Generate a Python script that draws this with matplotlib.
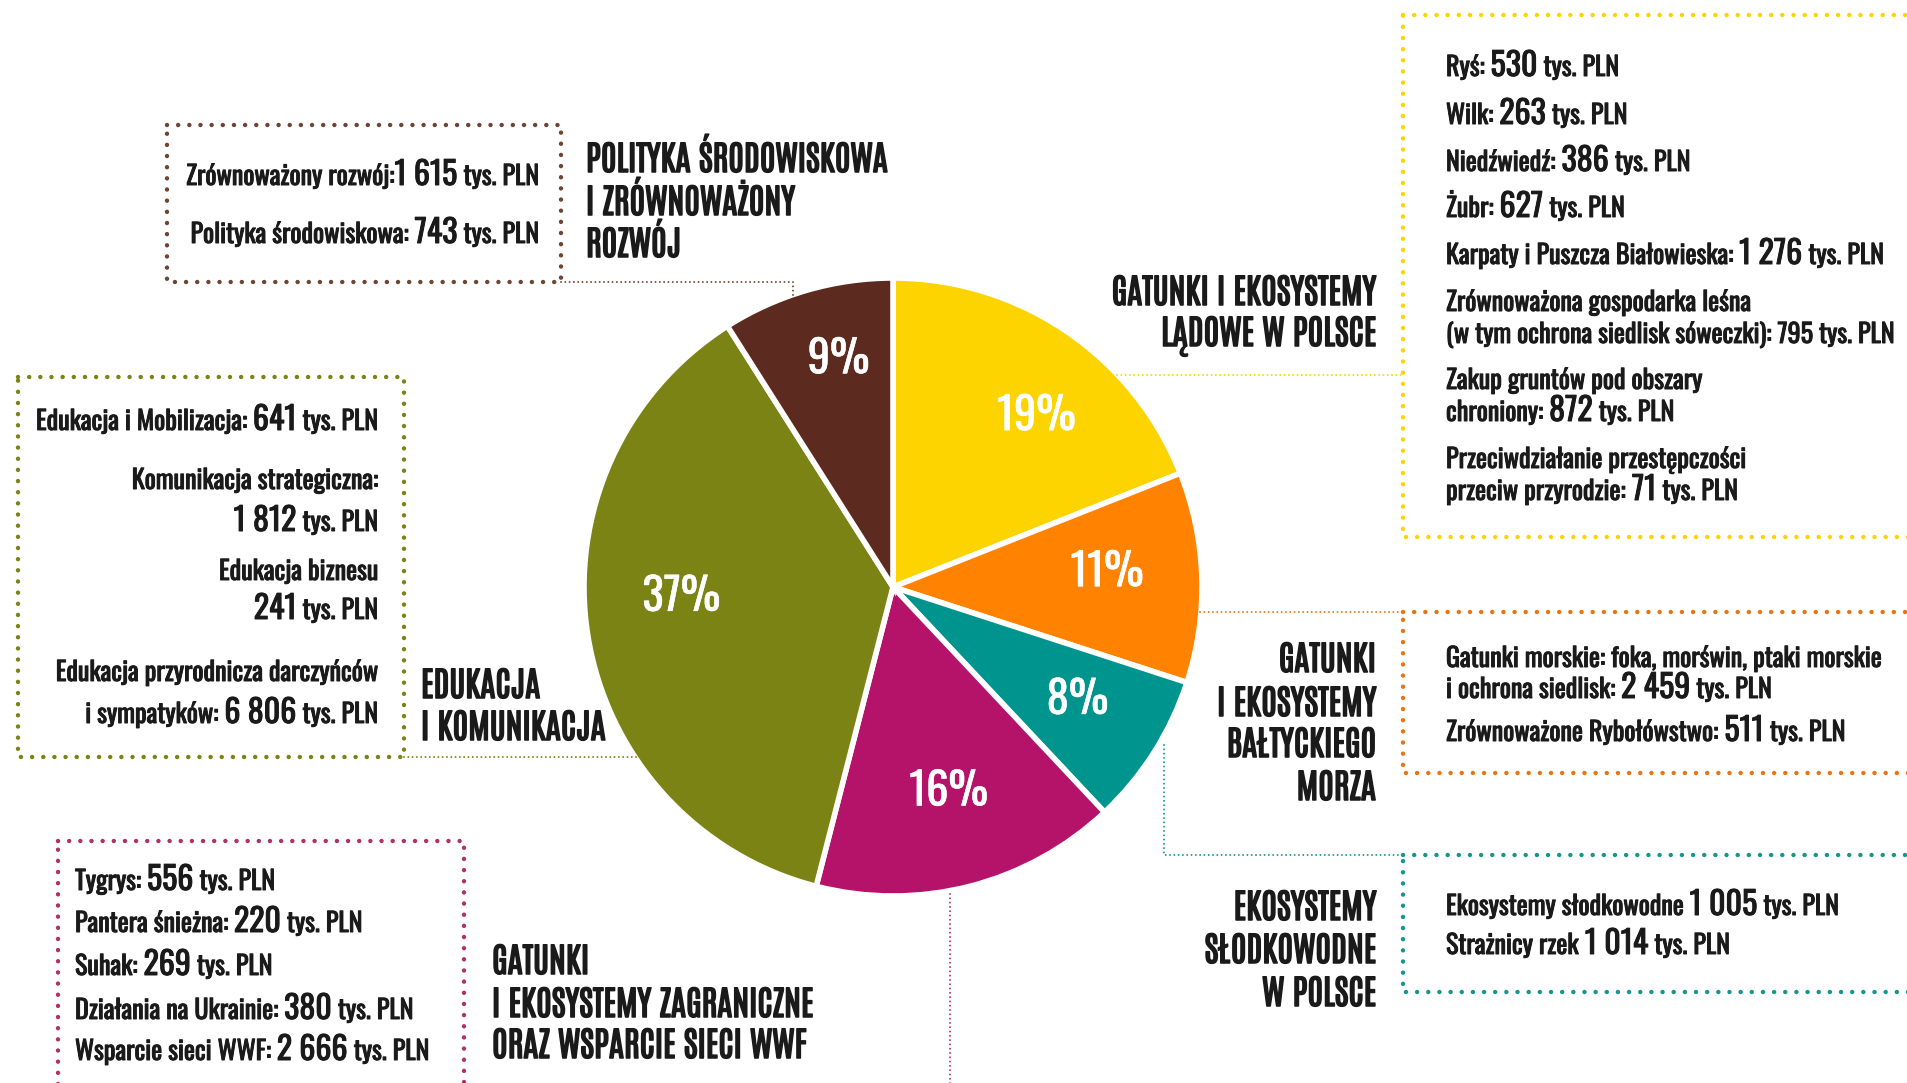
import re
import matplotlib
matplotlib.use('Agg')
import matplotlib.pyplot as plt
import matplotlib.patheffects as pe

W, H = 1908, 1083
FONT = ['Oswald', 'DejaVu Sans']
TITLE_FONT = ['Antonio', 'DejaVu Sans']
INK = '#1a1a1a'

# udział w budżecie (%) – kolejność zgodnie z ruchem wskazówek zegara od góry
shares = [19, 11, 8, 16, 37, 9]
slice_colors = ['#FDD300', '#FF8200', '#00948F', '#B5136A', '#7A8313', '#5C2A1E']
line_colors = ['#FDD300', '#EA7412', '#13968F', '#B0306A', '#7A8313', '#6E4433']

titles = [
    ['GATUNKI I EKOSYSTEMY', 'LĄDOWE W POLSCE'],
    ['GATUNKI', 'I EKOSYSTEMY', 'BAŁTYCKIEGO', 'MORZA'],
    ['EKOSYSTEMY', 'SŁODKOWODNE', 'W POLSCE'],
    ['GATUNKI', 'I EKOSYSTEMY ZAGRANICZNE', 'ORAZ WSPARCIE SIECI WWF'],
    ['EDUKACJA', 'I KOMUNIKACJA'],
    ['POLITYKA ŚRODOWISKOWA', 'I ZRÓWNOWAŻONY', 'ROZWÓJ'],
]

# {...} = liczba pisana większym stopniem
land_items = ['Ryś: {530} tys. PLN', 'Wilk: {263} tys. PLN', 'Niedźwiedź: {386} tys. PLN',
              'Żubr: {627} tys. PLN', 'Karpaty i Puszcza Białowieska: {1 276} tys. PLN',
              'Zrównoważona gospodarka leśna', '(w tym ochrona siedlisk sóweczki): 795 tys. PLN',
              'Zakup gruntów pod obszary', 'chroniony: {872} tys. PLN',
              'Przeciwdziałanie przestępczości', 'przeciw przyrodzie: {71} tys. PLN']
baltic_items = ['Gatunki morskie: foka, morświn, ptaki morskie', 'i ochrona siedlisk: {2 459} tys. PLN',
                'Zrównoważone Rybołówstwo: {511} tys. PLN']
fresh_items = ['Ekosystemy słodkowodne {1 005} tys. PLN', 'Strażnicy rzek {1 014} tys. PLN']
abroad_items = ['Tygrys: {556} tys. PLN', 'Pantera śnieżna: {220} tys. PLN', 'Suhak: {269} tys. PLN',
                'Działania na Ukrainie: {380} tys. PLN', 'Wsparcie sieci WWF: {2 666} tys. PLN']
edu_items = ['Edukacja i Mobilizacja: {641} tys. PLN', 'Komunikacja strategiczna:', '{1 812} tys. PLN',
             'Edukacja biznesu', '{241} tys. PLN', 'Edukacja przyrodnicza darczyńców',
             'i sympatyków: {6 806} tys. PLN']
policy_items = ['Zrównoważony rozwój:{1 615} tys. PLN', 'Polityka środowiskowa: {743} tys. PLN']

fig = plt.figure(figsize=(W / 100, H / 100), dpi=100)
ax = fig.add_axes([0, 0, 1, 1])

wedges, _, pcts = ax.pie(shares, colors=slice_colors, startangle=90, counterclock=False,
                         center=(893, H - 587), radius=309, autopct='%.0f%%', pctdistance=0.7,
                         wedgeprops=dict(edgecolor='white', linewidth=4),
                         textprops=dict(color='white', fontsize=32, family=FONT))
# drobne przesunięcia etykiet procentowych (px, w dół dodatnio)
nudges = [(22, 8), (-2, -8), (2, -3), (2, -5), (2, -24), (6, -20)]
for t, (dx, dy) in zip(pcts, nudges):
    x, y = t.get_position()
    t.set_position((x + dx, y - dy))
    t.set_path_effects([pe.withStroke(linewidth=0.4, foreground='white')])

ax.set_xlim(0, W)
ax.set_ylim(0, H)
ax.set_aspect('equal')
ax.axis('off')

renderer = fig.canvas.get_renderer()
BOLDER = [pe.withStroke(linewidth=0.7, foreground=INK)]
BOLDEST = [pe.withStroke(linewidth=1.1, foreground=INK)]


def width_of(s, size):
    t = ax.text(0, 0, s, fontsize=size, family=FONT)
    w = t.get_window_extent(renderer).width
    t.remove()
    return w


def dotted(xs, ys, color, big=True):
    ax.plot(xs, [H - y for y in ys], color=color, lw=3.2 if big else 1.4,
            linestyle=(0, (0.01, 2.5)) if big else (0, (0.01, 2.2)),
            dash_capstyle='round', clip_on=False)


def box(x0, y0, x1, y1, color):
    dotted([x0, x1, x1, x0, x0], [y0, y0, y1, y1, y0], color)


def rich_line(x, y, line, ha='left', size=18.8, big=23):
    gap = width_of('a a', size) - width_of('aa', size)
    segs = []
    pending = 0
    for p in re.split(r'(\{[^}]*\})', line):
        if not p:
            continue
        isbig = p.startswith('{')
        s = p[1:-1] if isbig else p
        if s != s.lstrip():
            pending += gap
        segs.append((s.strip(), big if isbig else size, pending))
        pending = gap if s != s.rstrip() else 0
    widths = [width_of(s, sz) for s, sz, _ in segs]
    total = sum(widths) + sum(g for _, _, g in segs)
    cx = x - total if ha == 'right' else x
    for (s, sz, g), w in zip(segs, widths):
        cx += g
        ax.text(cx, H - y, s, fontsize=sz, family=FONT, va='baseline', ha='left', color=INK,
                path_effects=BOLDER)
        cx += w


def title(x, ys, lines, ha):
    for yy, s in zip(ys, lines):
        ax.text(x, H - yy, s, fontsize=24.5, family=TITLE_FONT, va='baseline', ha=ha, color=INK,
                path_effects=BOLDEST)


# ramki
box(1403, 15, 1940, 537, line_colors[0])
box(1403, 612, 1940, 773, line_colors[1])
box(1403, 855, 1940, 992, line_colors[2])
box(58, 841, 464, 1120, line_colors[3])
box(18, 377, 404, 757, line_colors[4])
box(167, 125, 561, 282, line_colors[5])

# łączniki
dotted([1117, 1403], [375, 375], line_colors[0], big=False)
dotted([1200, 1403], [612, 612], line_colors[1], big=False)
dotted([1164, 1164, 1403], [745, 855, 855], line_colors[2], big=False)
dotted([950, 950], [894, 1090], line_colors[3], big=False)
dotted([404, 638], [757, 757], line_colors[4], big=False)
dotted([561, 793, 793], [282, 282, 297], line_colors[5], big=False)

# tytuły kategorii
title(1376, [305, 346], titles[0], 'right')
title(1376, [672, 716, 757, 800], titles[1], 'right')
title(1376, [920, 963, 1006], titles[2], 'right')
title(492, [974, 1017, 1058], titles[3], 'left')
title(421, [698, 740], titles[4], 'left')
title(586, [172, 215, 257], titles[5], 'left')

# pozycje szczegółowe
for yy, s in zip([76, 124, 171, 217, 264, 311, 343, 389, 421, 468, 500], land_items):
    rich_line(1446, yy, s)
for yy, s in zip([667, 698, 741], baltic_items):
    rich_line(1446, yy, s)
for yy, s in zip([915, 954], fresh_items):
    rich_line(1446, yy, s)
for yy, s in zip([890, 932, 975, 1019, 1060], abroad_items):
    rich_line(75, yy, s)
for yy, s in zip([430, 489, 531, 580, 619, 681, 723], edu_items):
    rich_line(378, yy, s, ha='right')
for yy, s in zip([185, 243], policy_items):
    rich_line(539, yy, s, ha='right')

fig.savefig('out.png')
